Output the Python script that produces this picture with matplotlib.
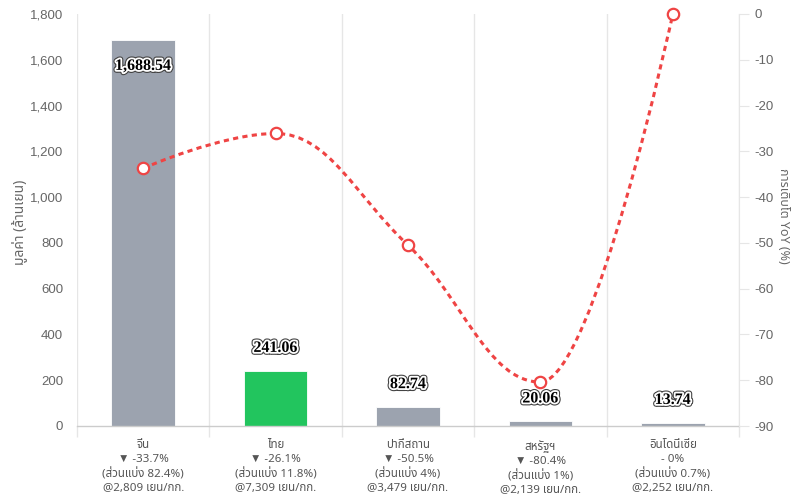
import matplotlib
matplotlib.use("Agg")
import matplotlib.pyplot as plt
import matplotlib.font_manager as fm
from matplotlib.ft2font import FT2Font
from matplotlib.path import Path
from matplotlib.patches import PathPatch
from matplotlib.ticker import FuncFormatter, FixedLocator
import matplotlib.patheffects as pe

plt.rcParams["axes.unicode_minus"] = False

# ---------------- data ----------------
countries = ["จีน", "ไทย", "ปากีสถาน", "สหรัฐฯ", "อินโดนีเซีย"]
values = [1688.54, 241.06, 82.74, 20.06, 13.74]
yoy = [-33.7, -26.1, -50.5, -80.4, 0]
share = [82.4, 11.8, 4, 1, 0.7]
price = [2809, 7309, 3479, 2139, 2252]
highlight = "ไทย"
left_ticks = [0, 200, 400, 600, 800, 1000, 1200, 1400, 1600, 1800]
right_ticks = [-90, -80, -70, -60, -50, -40, -30, -20, -10, 0]
left_title = "มูลค่า (ล้านเยน)"
right_title = "การเติบโต YoY (%)"

# ---------------- fonts ----------------
def find_thai_family():
    prefs = ["Noto Sans Thai", "Noto Sans Thai UI", "Noto Sans Thai Looped", "Tahoma",
             "Loma", "Garuda", "Norasi", "Sarabun", "Noto Serif Thai"]
    found = {}
    for f in fm.fontManager.ttflist:
        try:
            cm = FT2Font(f.fname).get_charmap()
        except Exception:
            continue
        if 0x0E08 in cm and 0x0E35 in cm:
            found.setdefault(f.name, f.fname)
    for p in prefs:
        if p in found:
            return p
    for n in found:
        if "Serif" not in n:
            return n
    return next(iter(found), "DejaVu Sans")

thai = find_thai_family()
sans_list = [thai, "Liberation Sans", "DejaVu Sans"]
num_list = ["Liberation Sans", "DejaVu Sans"]

# ---------------- figure ----------------
fig = plt.figure(figsize=(7.91, 4.99), dpi=100)
ax = fig.add_axes([77 / 791, 1 - 426 / 499, (739 - 77) / 791, (426 - 14) / 499])
ax2 = ax.twinx()

grid_c = "#e6e6e6"
txt_c = "#666666"

x = list(range(len(countries)))
colors = ["#22c55e" if c == highlight else "#9ca3af" for c in countries]
bars = ax.bar(x, values, width=0.48, color=colors, edgecolor="white", linewidth=0.6, zorder=2)

ax.set_xlim(-0.5, len(countries) - 0.5)
ax.set_ylim(left_ticks[0], left_ticks[-1])
ax2.set_ylim(right_ticks[0], right_ticks[-1])

# value labels
outline = [pe.withStroke(linewidth=4.2, foreground="#444444"),
           pe.withStroke(linewidth=2.6, foreground="white")]
for xi, v in zip(x, values):
    inside = v > 0.9 * left_ticks[-1]
    off = -19 if inside else 16.5
    ax.annotate(f"{v:,.2f}", (xi, v), xytext=(0, off), textcoords="offset points",
                ha="center", va="center", fontsize=11.5, fontweight="bold",
                family=["Liberation Serif", "DejaVu Serif"], color="black",
                path_effects=outline, zorder=5)

# x labels
def arrow(v):
    if v < 0:
        return "▼ "
    if v > 0:
        return "▲ "
    return "- "

xlabels = [f"{c}\n{arrow(g)}{g:g}%\n(ส่วนแบ่ง {s:g}%)\n@{p:,} เยน/กก."
           for c, g, s, p in zip(countries, yoy, share, price)]
ax.set_xticks(x)
ax.set_xticklabels(xlabels, family=sans_list, fontsize=8.3, color="#555555", linespacing=1.36)
ax.xaxis.set_minor_locator(FixedLocator([i - 0.5 for i in range(len(countries) + 1)]))
ax.tick_params(axis="x", which="major", length=0, pad=10)
ax.tick_params(axis="x", which="minor", length=8, color=grid_c, width=1)
ax.grid(True, axis="x", which="minor", color=grid_c, linewidth=1, zorder=0)
ax.set_axisbelow(True)

# left axis
ax.set_yticks(left_ticks)
ax.yaxis.set_major_formatter(FuncFormatter(lambda v, p: f"{v:,.0f}"))
ax.tick_params(axis="y", length=0, pad=10, labelsize=9.5, labelcolor=txt_c)
for lab in ax.get_yticklabels():
    lab.set_family(num_list)
ax.set_ylabel(left_title, family=sans_list, fontsize=10, color=txt_c, va="center")
ax.yaxis.set_label_coords((19 - 77) / 662, 0.495)

# right axis
ax2.set_yticks(right_ticks)
ax2.tick_params(axis="y", length=7, color=grid_c, pad=4, labelsize=9.5, labelcolor=txt_c)
for lab in ax2.get_yticklabels():
    lab.set_family(num_list)
ax2.set_ylabel(right_title, family=sans_list, fontsize=9, color=txt_c, rotation=270, va="center")
ax2.yaxis.set_label_coords((783 - 77) / 662, 0.51)

for a in (ax, ax2):
    for s in ("top", "left", "right", "bottom"):
        a.spines[s].set_visible(False)
ax.spines["bottom"].set_visible(True)
ax.spines["bottom"].set_color("#cccccc")
ax.spines["bottom"].set_linewidth(1)
ax2.spines["right"].set_visible(True)
ax2.spines["right"].set_color(grid_c)

# smooth spline line (Highcharts-style control points)
def spline_path(xs, ys, smoothing=1.5):
    n = len(xs)
    lc = [None] * n
    rc = [None] * n
    for i in range(n):
        if 0 < i < n - 1:
            px, py = xs[i], ys[i]
            lx, ly = xs[i - 1], ys[i - 1]
            nx, ny = xs[i + 1], ys[i + 1]
            d = smoothing + 1
            lcx = (smoothing * px + lx) / d
            lcy = (smoothing * py + ly) / d
            rcx = (smoothing * px + nx) / d
            rcy = (smoothing * py + ny) / d
            if rcx != lcx:
                corr = (rcy - lcy) * (rcx - px) / (rcx - lcx) + py - rcy
                lcy += corr
                rcy += corr
            if lcy > ly and lcy > py:
                lcy = max(ly, py); rcy = 2 * py - lcy
            elif lcy < ly and lcy < py:
                lcy = min(ly, py); rcy = 2 * py - lcy
            if rcy > ny and rcy > py:
                rcy = max(ny, py); lcy = 2 * py - rcy
            elif rcy < ny and rcy < py:
                rcy = min(ny, py); lcy = 2 * py - rcy
            lc[i] = (lcx, lcy)
            rc[i] = (rcx, rcy)
        else:
            lc[i] = (xs[i], ys[i])
            rc[i] = (xs[i], ys[i])
    verts = [(xs[0], ys[0])]
    codes = [Path.MOVETO]
    for i in range(1, n):
        verts += [rc[i - 1], lc[i], (xs[i], ys[i])]
        codes += [Path.CURVE4] * 3
    return Path(verts, codes)

red = "#ef4444"
patch = PathPatch(spline_path(x, yoy), facecolor="none", edgecolor=red, linewidth=2.2,
                  linestyle=(0, (1.7, 1.4)), zorder=3, capstyle="butt")
ax2.add_patch(patch)
ax2.plot(x, yoy, linestyle="none", marker="o", markersize=8.2, markerfacecolor="white",
         markeredgecolor=red, markeredgewidth=1.6, zorder=4, clip_on=False)

fig.savefig("out.png", dpi=100)
